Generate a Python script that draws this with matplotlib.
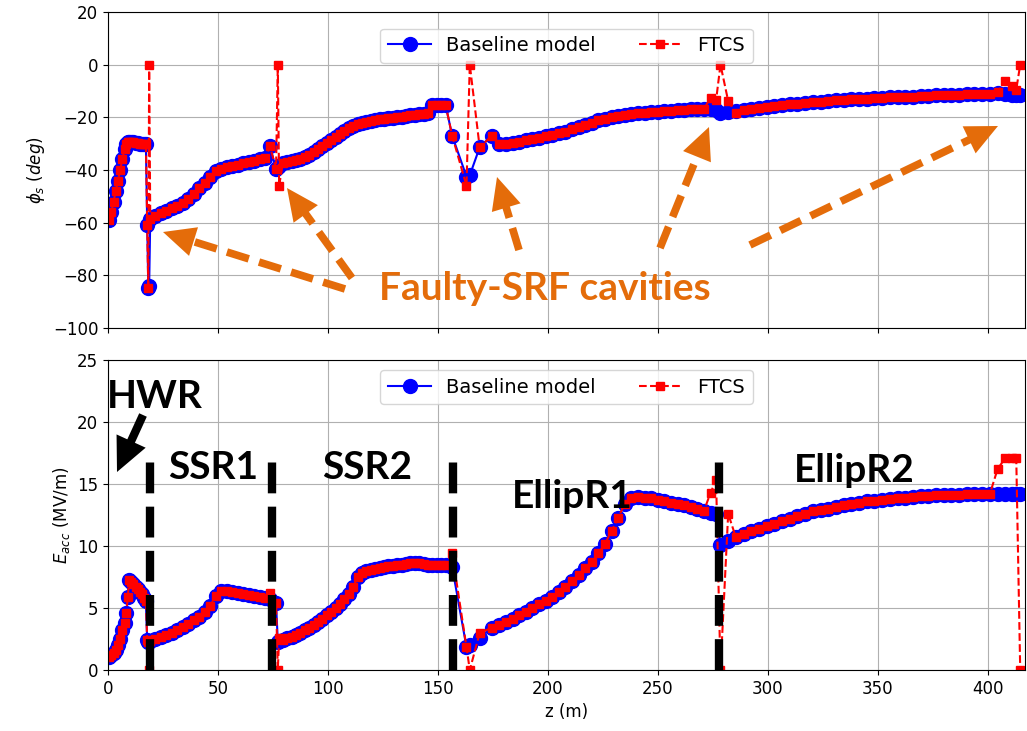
import matplotlib
matplotlib.use("Agg")
import numpy as np
import matplotlib.pyplot as plt
from matplotlib.lines import Line2D
from matplotlib.patches import Polygon

plt.rcParams['xtick.labelsize'] = 12
plt.rcParams['ytick.labelsize'] = 12
plt.rcParams['axes.labelsize'] = 12

# Położenia wnęk (z w metrach) i parametry modelu bazowego
base_z = [
    # HWR
    0.5, 1.5, 2.5, 3.5, 4.5, 5.5, 6.5, 7.5, 8.3, 9.0, 9.6, 10.5, 11.5, 12.5,
    13.5, 14.5, 15.5, 16.5, 17.2, 17.8, 18.3, 18.7,
    # SSR1
    19.2, 21.5, 24, 26.5, 29, 31.5, 34, 36.5, 39, 41.5, 44, 46.5, 49, 51.5,
    54, 56.5, 59, 61.5, 64, 66.5, 69, 71.5, 73.6, 76.4, 77.2, 77.8,
    # SSR2
    79.5, 81.5, 83.5, 85.5, 87.5, 89.5, 91.5, 93.5, 95.5, 97.5, 99.5, 101.5,
    103.5, 105.5, 107.5, 109.5, 111.5, 113.5, 115.5, 117.5, 119.5, 121.5,
    123.5, 125.5, 127.5, 129.5, 131.5, 133.5, 135.5, 137.5, 139.5, 141.5,
    143.5, 145.5, 147.5, 149.5, 151.5, 153.5, 156.5,
    # EllipR1
    163, 164.5, 169, 174.5, 178, 181, 184, 187, 190, 193, 196, 199, 202, 205,
    208, 211, 214, 217, 220, 223, 226, 229, 232, 235, 238, 241, 244, 247, 250,
    253, 256, 259, 262, 265, 268, 271, 274, 276.5,
    # EllipR2
    278.5, 282, 285.5, 289, 292.5, 296, 299.5, 303, 306.5, 310, 313.5, 317,
    320.5, 324, 327.5, 331, 334.5, 338, 341.5, 345, 348.5, 352, 355.5, 359,
    362.5, 366, 369.5, 373, 376.5, 380, 383.5, 387, 390.5, 394, 397.5, 401,
    404.5, 408, 411, 413, 414.8,
]

base_phi = [
    -59, -56, -52, -48, -44, -40, -36, -32, -30, -29.5, -29.5, -29.5, -29.5,
    -29.7, -29.8, -30, -30, -30, -30, -61, -85, -84,
    -58.5, -57.5, -56.5, -55.5, -54.5, -53.5, -52.5, -51, -49, -47, -45,
    -42.5, -40.5, -39.5, -39, -38.5, -38, -37.5, -37, -36.5, -36, -35.5, -31,
    -39.5, -39, -38.5,
    -37.5, -37, -36.7, -36.3, -35.8, -35.2, -34.3, -33.3, -32.2, -31, -29.8,
    -28.6, -27.4, -26.2, -25.1, -24.1, -23.3, -22.6, -22.1, -21.7, -21.4,
    -21.1, -20.8, -20.5, -20.3, -20.1, -19.9, -19.7, -19.5, -19.3, -19.1,
    -18.9, -18.7, -18.5, -15.3, -15.3, -15.3, -15.3, -27,
    -42.5, -42, -31.4, -27, -30, -30, -29.6, -29.2, -28.7, -28.2, -27.7,
    -27.2, -26.7, -26.1, -25.4, -24.6, -23.8, -22.9, -22.0, -21.2, -20.5,
    -19.9, -19.4, -19.0, -18.7, -18.5, -18.3, -18.1, -17.9, -17.7, -17.5,
    -17.3, -17.1, -17.0, -16.9, -16.8, -16.7, -17.2,
    -18.4, -18.0, -17.6, -17.2, -16.9, -16.6, -16.2, -15.8, -15.4, -15.1,
    -14.8, -14.5, -14.2, -14.0, -13.8, -13.6, -13.4, -13.2, -13.0, -12.9,
    -12.7, -12.6, -12.4, -12.3, -12.2, -12.1, -12.0, -11.8, -11.7, -11.6,
    -11.5, -11.4, -11.3, -11.2, -11.1, -11.0, -10.9, -11.3, -11.5, -11.6,
    -11.6,
]

base_eacc = [
    1.05, 1.2, 1.35, 1.6, 2.0, 2.5, 3.2, 3.8, 4.6, 5.9, 7.3, 7.1, 6.9, 6.7,
    6.5, 6.3, 6.1, 5.8, 5.6, 2.4, 2.3, 2.3,
    2.35, 2.5, 2.65, 2.8, 3.0, 3.2, 3.45, 3.7, 4.0, 4.3, 4.7, 5.2, 6.0, 6.4,
    6.35, 6.3, 6.2, 6.1, 6.05, 5.95, 5.85, 5.8, 5.7, 5.4, 2.3, 2.35,
    2.45, 2.55, 2.65, 2.8, 3.0, 3.2, 3.4, 3.6, 3.85, 4.1, 4.4, 4.7, 5.0, 5.3,
    5.7, 6.1, 6.7, 7.5, 7.8, 7.95, 8.05, 8.15, 8.25, 8.3, 8.35, 8.4, 8.45,
    8.5, 8.55, 8.6, 8.6, 8.6, 8.55, 8.5, 8.5, 8.5, 8.45, 8.45, 8.3,
    1.85, 2.0, 2.6, 3.4, 3.6, 3.9, 4.1, 4.4, 4.7, 5.0, 5.3, 5.6, 5.9, 6.3,
    6.7, 7.2, 7.7, 8.2, 8.7, 9.4, 10.2, 11.2, 12.3, 13.4, 13.9, 13.95, 13.9,
    13.85, 13.75, 13.65, 13.5, 13.4, 13.3, 13.15, 13.0, 12.85, 12.7, 12.6,
    10.1, 10.4, 10.7, 11.0, 11.2, 11.4, 11.6, 11.8, 12.0, 12.2, 12.4, 12.6,
    12.8, 12.9, 13.0, 13.15, 13.3, 13.4, 13.5, 13.6, 13.65, 13.7, 13.8, 13.85,
    13.9, 13.95, 14.0, 14.05, 14.1, 14.1, 14.15, 14.15, 14.2, 14.2, 14.2,
    14.2, 14.2, 14.2, 14.2, 14.2, 14.2,
]

# FTCS: wnęki wyłączone (faza 0, pole 0) i kompensacja w sąsiednich wnękach
ftcs_z = [18.7, 73.6, 76.4, 77.2, 77.8, 156.5, 163, 164.5, 169, 274, 276.5,
          278.5, 282, 285.5, 404.5, 408, 411, 413, 414.8]
ftcs_phi_new = [0, -31, -39.5, 0, -46, -27, -46, 0, -31.4, -12.6, -13.5,
                0, -13.8, -18.4, -10.5, -6.1, -8.0, -9.5, 0]
ftcs_eacc_new = [0, 6.2, 5.4, 0, 2.6, 9.4, 1.85, 0, 3.0, 14.3, 15.3,
                 0, 12.6, 10.7, 16.2, 17.1, 17.1, 17.1, 0]

ftcs_phi = list(base_phi)
ftcs_eacc = list(base_eacc)
for z, p, e in zip(ftcs_z, ftcs_phi_new, ftcs_eacc_new):
    i = base_z.index(z)
    ftcs_phi[i] = p
    ftcs_eacc[i] = e

# Granice sekcji i nazwy sekcji
section_bounds = [19.1, 74.5, 157, 278]
section_names = ['HWR', 'SSR1', 'SSR2', 'EllipR1', 'EllipR2']
section_label_z = [21.4, 47.7, 118, 211, 339.5]
section_label_e = [22.05, 16.3, 16.3, 14.0, 16.1]

orange = '#E46C0A'
W, H = 1027, 731

fig = plt.figure(figsize=(W / 100, H / 100), dpi=100)
ax1 = fig.add_axes([0.1052, 0.5513, 0.8929, 0.4323])
ax2 = fig.add_axes([0.1052, 0.0834, 0.8929, 0.4241])


def draw_series(ax, yb, yf, pad):
    ax.plot(base_z, yb, '-o', color='blue', lw=1.5, ms=10, label='Baseline model')
    ax.plot(base_z, yf, '--s', color='red', lw=1.5, ms=5.5, label='FTCS')
    ax.set_xlim(0, 417)
    ax.set_xticks(range(0, 401, 50))
    ax.grid(True)
    ax.legend(loc='upper center', ncol=2, fontsize=14, columnspacing=2.2,
              handlelength=2.2, borderaxespad=pad)


def fig_arrow(tail, tip, color, lw, ls, head_len, head_w):
    """Strzałka w pikselach obrazu (y liczone od góry)."""
    t = np.array([tail[0], H - tail[1]], float)
    p = np.array([tip[0], H - tip[1]], float)
    u = (p - t) / np.hypot(*(p - t))
    n = np.array([-u[1], u[0]])
    base = p - u * head_len
    shaft_end = base + u * 2
    fig.add_artist(Line2D([t[0] / W, shaft_end[0] / W], [t[1] / H, shaft_end[1] / H],
                          transform=fig.transFigure, color=color, lw=lw, ls=ls,
                          solid_capstyle='butt', dash_capstyle='butt'))
    tri = [p, base + n * head_w / 2, base - n * head_w / 2]
    tri = [(q[0] / W, q[1] / H) for q in tri]
    fig.add_artist(Polygon(tri, closed=True, transform=fig.transFigure,
                           facecolor=color, edgecolor='none'))


draw_series(ax1, base_phi, ftcs_phi, 0.85)
ax1.set_ylim(-100, 20)
ax1.set_yticks(range(-100, 21, 20))
ax1.tick_params(labelbottom=False)
ax1.set_ylabel(r'$\phi_s\ (deg)$')

draw_series(ax2, base_eacc, ftcs_eacc, 0.5)
ax2.set_ylim(0, 25)
ax2.set_yticks(range(0, 26, 5))
ax2.set_xlabel('z (m)')
ax2.set_ylabel(r'$E_{acc}$ (MV/m)')

# Pionowe linie rozdzielające sekcje
for zb in section_bounds:
    ax2.plot([zb, zb], [0, 16.9], color='black', lw=6, ls='--', zorder=5)

for name, zx, ey in zip(section_names, section_label_z, section_label_e):
    ax2.text(zx, ey, name, ha='center', va='center', fontsize=28,
             fontfamily='Lato', fontweight='bold', zorder=6)

# Strzałka HWR
fig_arrow((143, 415), (117, 472), 'black', 6, '-', 34, 32)

# Wnęki uszkodzone
ax1.text(198.6, -84.9, 'Faulty-SRF cavities', ha='center', va='center',
         fontsize=28, fontfamily='Lato', fontweight='bold', color=orange)

arrows = [
    ((345, 289), (163, 232)),
    ((352, 278), (287, 188)),
    ((519, 250), (497, 177)),
    ((660, 248), (709, 127)),
    ((750, 245), (998, 126)),
]
for tail, tip in arrows:
    fig_arrow(tail, tip, orange, 5.5, (0, (3, 1.4)), 32, 30)

fig.savefig('out.png', dpi=100)
